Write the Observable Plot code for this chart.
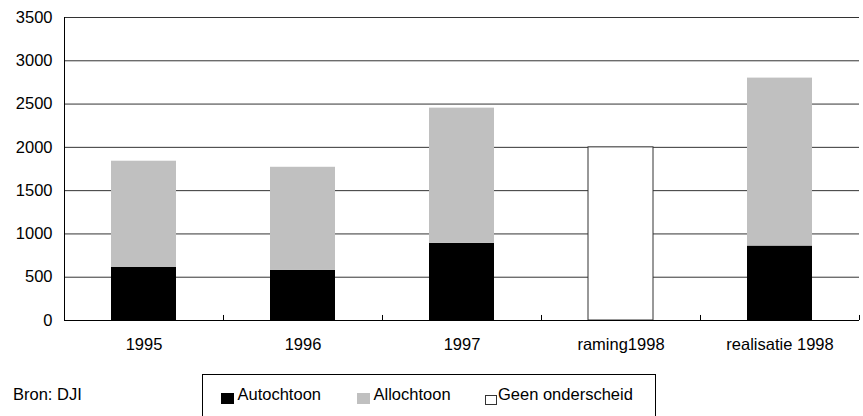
<!DOCTYPE html>
<html>
<head>
<meta charset="utf-8">
<script src="https://cdn.jsdelivr.net/npm/d3@7"></script>
<script src="https://cdn.jsdelivr.net/npm/@observablehq/plot@0.6"></script>
<style>
  html, body { margin: 0; padding: 0; background: #fff; overflow: hidden; }
  body { width: 863px; height: 416px; position: relative; font-family: "Liberation Sans", Arial, sans-serif; }
  #chart { position: absolute; left: 0; top: 0; }
  .txt { position: absolute; font-size: 16.5px; line-height: 16.5px; white-space: nowrap; color: #000; }
  #legend { position: absolute; left: 202px; top: 374px; width: 454px; height: 60px; border: 1px solid #000; box-sizing: border-box; }
  .sw { position: absolute; box-sizing: border-box; }
</style>
</head>
<body>
<div id="chart"></div>
<div class="txt" style="left:13px; top:385.5px;">Bron: DJI</div>
<div id="legend"></div>
<script>
const years = ["1995", "1996", "1997", "raming1998", "realisatie 1998"];
const autochtoon = [615, 578, 891, 0, 860];
const allochtoon = [1225, 1192, 1562, 0, 1940];
const geenOnderscheid = [0, 0, 0, 2000, 0];
const yTicks = [0, 500, 1000, 1500, 2000, 2500, 3000, 3500];
const series = ["Autochtoon", "Allochtoon", "Geen onderscheid"];
const colors = ["#000000", "#c0c0c0", "#ffffff"];

const stacked = [];
years.forEach((y, i) => {
  stacked.push({year: y, series: series[0], value: autochtoon[i]});
  stacked.push({year: y, series: series[1], value: allochtoon[i]});
});
const geen = years.map((y, i) => ({year: y, series: series[2], value: geenOnderscheid[i]})).filter(d => d.value > 0);

const W = 863, H = 360, mL = 64, mR = 4, mT = 17, mB = 40;
const step = (W - mL - mR) / years.length;

const chart = Plot.plot({
  width: W,
  height: H,
  marginLeft: mL,
  marginRight: mR,
  marginTop: mT,
  marginBottom: mB,
  style: {fontFamily: "'Liberation Sans', Arial, sans-serif", fontSize: "16.5px", color: "#000", background: "#fff"},
  x: {domain: years, paddingInner: 0.59, paddingOuter: 0.295, label: null},
  y: {domain: [0, 3500], label: null},
  color: {domain: series, range: colors},
  marks: [
    Plot.ruleY(yTicks, {stroke: "#333", strokeWidth: 1}),
    Plot.barY(stacked, {x: "year", y: "value", fill: "series", order: series}),
    Plot.barY(geen, {x: "year", y: "value", fill: "series", stroke: "#333", strokeWidth: 1}),
    Plot.ruleY([0], {stroke: "#000"}),
    Plot.ruleX([years[0]], {x: d => d, dx: -step / 2, y1: 0, y2: 3500, stroke: "#000"}),
    Plot.ruleX(years, {x: d => d, dx: step / 2, y1: 0, y2: 58, stroke: "#000"}),
    Plot.axisY({ticks: yTicks, tickSize: 0, tickPadding: 12, tickFormat: d => String(d)}),
    Plot.axisX({tickSize: 0, tickPadding: 18})
  ]
});
document.getElementById("chart").appendChild(chart);

// legend
const legend = document.getElementById("legend");
const swX = [18, 154, 282];
const txX = [34.5, 170.5, 295];
series.forEach((s, i) => {
  const sw = document.createElement("div");
  sw.className = "sw";
  sw.style.left = swX[i] + "px";
  sw.style.top = (i === 2 ? 20 : 18) + "px";
  sw.style.width = (i === 2 ? 12 : 13) + "px";
  sw.style.height = (i === 2 ? 10 : 11) + "px";
  sw.style.background = colors[i];
  if (i === 2) sw.style.border = "1px solid #333";
  legend.appendChild(sw);
  const t = document.createElement("div");
  t.className = "txt";
  t.style.left = txX[i] + "px";
  t.style.top = "10.5px";
  t.textContent = s;
  legend.appendChild(t);
});
</script>
</body>
</html>
